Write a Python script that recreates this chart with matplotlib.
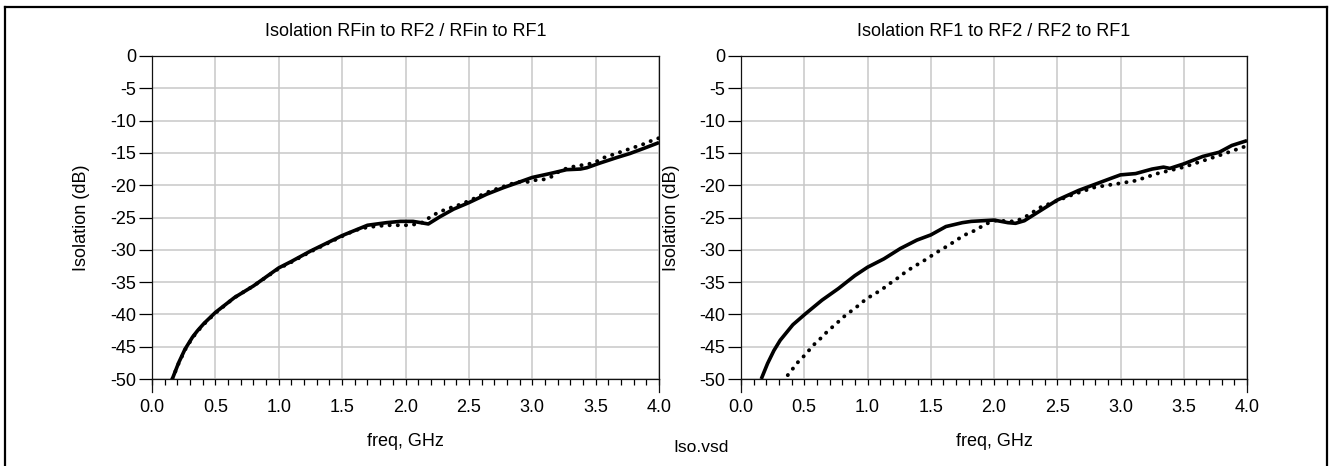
import matplotlib
matplotlib.use("Agg")
import matplotlib.pyplot as plt
import matplotlib.transforms as mtransforms
from matplotlib.lines import Line2D

plt.rcParams['font.family'] = ['Liberation Sans', 'DejaVu Sans']

# ---------------- data ----------------
titles = ["Isolation RFin to RF2 / RFin to RF1",
          "Isolation RF1 to RF2 / RF2 to RF1"]
xlabel = "freq, GHz"
ylabel = "Isolation (dB)"
footer = "Iso.vsd"

x_ticks = [0.0, 0.5, 1.0, 1.5, 2.0, 2.5, 3.0, 3.5, 4.0]
x_tick_labels = ["0.0", "0.5", "1.0", "1.5", "2.0", "2.5", "3.0", "3.5", "4.0"]
x_minor_ticks = [i / 10 for i in range(0, 41)]
y_ticks = [0, -5, -10, -15, -20, -25, -30, -35, -40, -45, -50]
y_tick_labels = ["0", "-5", "-10", "-15", "-20", "-25", "-30", "-35", "-40", "-45", "-50"]

# Left chart: RFin to RF2 (solid) / RFin to RF1 (dotted)
left_solid_f = [0.16, 0.21, 0.26, 0.32, 0.36, 0.41, 0.50, 0.65, 0.80, 1.00, 1.10, 1.25,
                1.50, 1.70, 1.85, 1.96, 2.06, 2.18, 2.27, 2.38, 2.50, 2.64, 2.77, 2.90,
                3.00, 3.14, 3.27, 3.38, 3.43, 3.53, 3.67, 3.77, 3.88, 4.00]
left_solid_db = [-50.0, -47.5, -45.4, -43.5, -42.5, -41.4, -39.7, -37.4, -35.6, -32.8, -31.8, -30.2,
                 -27.8, -26.2, -25.8, -25.6, -25.6, -26.0, -24.9, -23.7, -22.7, -21.4, -20.4, -19.5,
                 -18.8, -18.2, -17.6, -17.5, -17.3, -16.6, -15.7, -15.1, -14.3, -13.4]

left_dot_f = [0.16, 0.21, 0.26, 0.32, 0.36, 0.41, 0.50, 0.65, 0.80, 1.00, 1.10, 1.25,
              1.50, 1.60, 1.70, 1.85, 2.00, 2.06, 2.12, 2.19, 2.25, 2.31, 2.37, 2.43,
              2.49, 2.56, 2.61, 2.67, 2.73, 2.79, 2.85, 2.92, 2.97, 3.03, 3.09, 3.15,
              3.21, 3.27, 3.33, 3.39, 3.45, 3.51, 3.57, 3.63, 3.69, 3.75, 3.81, 3.87,
              3.93, 4.00]
left_dot_db = [-50.0, -47.6, -45.5, -43.6, -42.6, -41.5, -39.8, -37.4, -35.6, -32.9, -31.9, -30.3,
               -27.9, -27.0, -26.5, -26.2, -26.2, -26.1, -25.9, -25.0, -24.3, -23.8, -23.4, -23.0,
               -22.5, -21.9, -21.4, -20.9, -20.5, -20.1, -19.7, -19.4, -19.5, -19.2, -19.1, -18.7,
               -17.9, -17.4, -17.1, -16.9, -16.7, -16.3, -15.7, -15.3, -14.9, -14.5, -14.1, -13.7,
               -13.2, -12.7]

# Right chart: RF1 to RF2 (solid) / RF2 to RF1 (dotted)
right_solid_f = [0.16, 0.21, 0.26, 0.31, 0.41, 0.51, 0.64, 0.77, 0.90, 1.00, 1.13, 1.26,
                 1.39, 1.50, 1.62, 1.75, 1.82, 2.00, 2.11, 2.17, 2.24, 2.37, 2.50, 2.67,
                 2.80, 2.93, 3.00, 3.12, 3.25, 3.34, 3.39, 3.50, 3.65, 3.78, 3.88, 4.00]
right_solid_db = [-50.0, -47.6, -45.6, -44.0, -41.6, -39.9, -37.8, -36.0, -34.0, -32.7, -31.4, -29.8,
                  -28.5, -27.7, -26.4, -25.8, -25.6, -25.4, -25.8, -25.9, -25.5, -23.9, -22.3, -20.8,
                  -19.85, -18.9, -18.4, -18.2, -17.5, -17.2, -17.4, -16.7, -15.55, -14.9, -13.85, -13.1]

right_dot_f = [0.33, 0.39, 0.45, 0.51, 0.57, 0.63, 0.69, 0.75, 0.81, 0.87, 0.93, 0.99,
               1.05, 1.11, 1.17, 1.23, 1.29, 1.35, 1.41, 1.47, 1.53, 1.59, 1.65, 1.71,
               1.78, 1.85, 1.91, 1.97, 2.03, 2.10, 2.17, 2.24, 2.37, 2.50, 2.63, 2.80,
               3.00, 3.12, 3.29, 3.50, 3.78, 4.00]
right_dot_db = [-50.4, -48.9, -47.4, -46.2, -44.8, -43.7, -42.5, -41.5, -40.4, -39.5, -38.6, -37.6,
                -36.9, -36.2, -35.3, -34.5, -33.6, -32.8, -32.1, -31.4, -30.6, -29.9, -29.2, -28.4,
                -27.6, -27.0, -26.3, -25.7, -25.4, -25.6, -25.6, -25.0, -23.4, -22.4, -21.4, -20.3,
                -19.7, -19.3, -18.2, -17.2, -15.4, -13.9]

series = [
    (left_solid_f, left_solid_db, left_dot_f, left_dot_db),
    (right_solid_f, right_solid_db, right_dot_f, right_dot_db),
]

# ---------------- layout ----------------
W, H = 1330, 466
fig = plt.figure(figsize=(W / 100, H / 100), dpi=100)
fig.patch.set_facecolor("white")

def fx(x):
    return x / W

def fy(y):
    return 1 - y / H

axes_px = [(152, 56, 659, 379), (741, 56, 1247, 379)]
FS = 13

for i, (x0, y0, x1, y1) in enumerate(axes_px):
    ax = fig.add_axes([fx(x0), fy(y1), (x1 - x0) / W, (y1 - y0) / H])
    sf, sdb, df, ddb = series[i]
    ax.plot(df, ddb, color="black", lw=2.8, linestyle=(0, (0.05, 2.05)),
            dash_capstyle="round", zorder=3)
    ax.plot(sf, sdb, color="black", lw=2.6, solid_capstyle="butt",
            solid_joinstyle="round", zorder=4)

    ax.set_xlim(0, 4)
    ax.set_ylim(-50, 0)
    ax.set_xticks(x_ticks)
    ax.set_xticklabels(x_tick_labels)
    ax.set_xticks(x_minor_ticks, minor=True)
    ax.set_yticks(y_ticks)
    ax.set_yticklabels(y_tick_labels)
    ax.grid(True, which="major", color="#c8c8c8", lw=1.1, zorder=0)
    ax.set_axisbelow(True)
    ax.tick_params(axis="x", which="major", direction="out", length=4.3, width=0.9,
                   pad=10, labelsize=FS, colors="black")
    ax.tick_params(axis="x", which="minor", direction="out", length=4.3, width=0.9)
    ax.tick_params(axis="y", which="major", direction="out", length=9.4, width=0.9,
                   pad=2, labelsize=FS, colors="black")
    for sp in ax.spines.values():
        sp.set_color("#111111")
        sp.set_linewidth(0.9)

    # spine extensions below the x axis at both ends
    trans = mtransforms.blended_transform_factory(ax.transData, ax.transAxes)
    ext = 13 / (y1 - y0)
    for xv in (x_ticks[0], x_ticks[-1]):
        ax.add_line(Line2D([xv, xv], [0, -ext], transform=trans, color="#111111",
                           lw=0.9, clip_on=False))

    cx = (x0 + x1) / 2
    fig.text(fx(cx), fy(36), titles[i], ha="center", va="baseline", fontsize=FS)
    fig.text(fx(cx), fy(446), xlabel, ha="center", va="baseline", fontsize=FS)
    fig.text(fx(x0 - 70), fy((y0 + y1) / 2), ylabel, ha="center", va="center",
             rotation=90, fontsize=FS)

fig.text(fx(701), fy(452), footer, ha="center", va="baseline", fontsize=12.5)

# outer frame (open at the bottom)
frame_kw = dict(transform=fig.transFigure, color="black", lw=1.6)
fig.add_artist(Line2D([fx(5), fx(5)], [fy(7), 0], **frame_kw))
fig.add_artist(Line2D([fx(5), fx(1327)], [fy(7), fy(7)], **frame_kw))
fig.add_artist(Line2D([fx(1327), fx(1327)], [fy(7), 0], **frame_kw))

fig.savefig("out.png", dpi=100, facecolor="white")
